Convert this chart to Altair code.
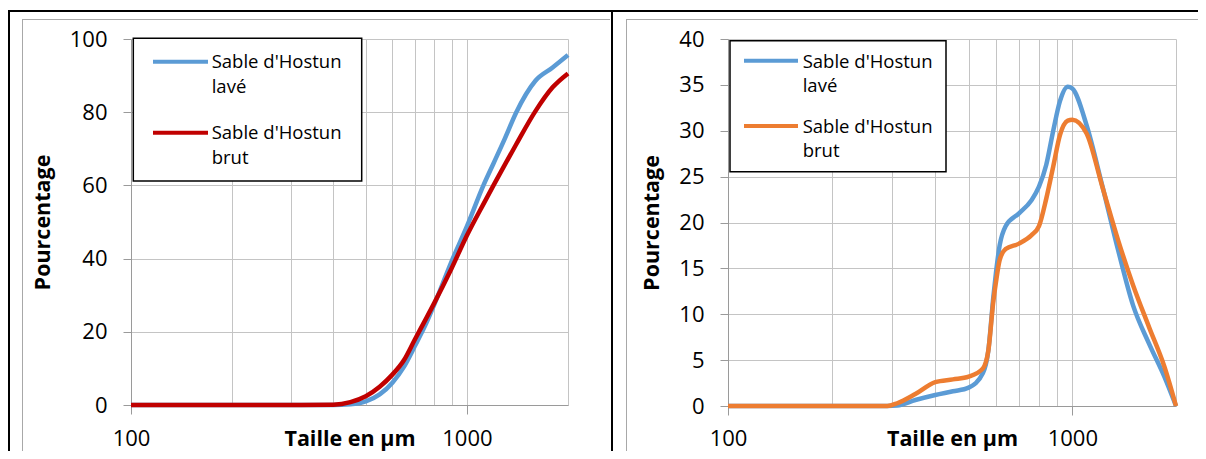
import altair as alt
import pandas as pd

FONT = "Open Sans"
SERIES = ["Sable d'Hostun lavé", "Sable d'Hostun brut"]
LEFT_COLORS = ["#5B9BD5", "#C00000"]
RIGHT_COLORS = ["#5B9BD5", "#ED7D31"]

# Left panel: cumulative curves
LEFT_SIZES = [100, 200, 300, 400, 450, 500, 550, 600, 650, 700, 760, 800, 900, 1000, 1120, 1200, 1300, 1400, 1600, 1800, 2000]
LEFT_LAVE = [0, 0, 0, 0, 0.2, 1.0, 2.9, 6.1, 10.5, 16.1, 22.7, 27.5, 39.2, 48.8, 60.0, 66.0, 73.0, 79.8, 88.6, 92.2, 95.6]
LEFT_BRUT = [0, 0, 0, 0.1, 0.8, 2.4, 5.0, 8.3, 12.3, 17.9, 24.0, 27.9, 37.3, 46.3, 54.9, 60.0, 65.8, 71.1, 80.3, 86.8, 90.6]

# Right panel: distribution curves
RIGHT_SIZES = [100, 200, 290, 310, 350, 400, 450, 500, 550, 570, 590, 600, 615, 640, 700, 760, 800, 840, 880, 920, 970, 1000, 1100, 1220, 1360, 1500, 1670, 1850, 2000]
RIGHT_LAVE = [0, 0, 0, 0.05, 0.65, 1.2, 1.6, 2.0, 3.6, 6.0, 12.0, 14.5, 17.5, 19.6, 21.0, 22.4, 23.9, 26.3, 30.0, 33.2, 34.8, 34.6, 30.6, 24.1, 16.9, 11.0, 6.8, 3.2, 0]
RIGHT_BRUT = [0, 0, 0, 0.3, 1.3, 2.6, 2.9, 3.2, 4.1, 6.0, 11.5, 13.5, 15.9, 17.1, 17.7, 18.6, 19.6, 22.6, 26.1, 29.5, 31.1, 31.2, 29.7, 24.0, 18.0, 13.2, 8.6, 4.3, 0]

X_GRID = [100, 200, 300, 400, 500, 600, 700, 800, 900, 1000, 2000]
LEFT_Y_TICKS = [0, 20, 40, 60, 80, 100]
RIGHT_Y_TICKS = [0, 5, 10, 15, 20, 25, 30, 35, 40]

GRID = "#c4c4c4"
AXIS = "#9a9a9a"
FRAME = "#a8a8a8"


def make_df(sizes, a, b):
    rows = []
    for s, v in zip(sizes, a):
        rows.append({"taille": s, "pct": v, "serie": SERIES[0]})
    for s, v in zip(sizes, b):
        rows.append({"taille": s, "pct": v, "serie": SERIES[1]})
    return pd.DataFrame(rows)


DUMMY = pd.DataFrame({"k": [0]})
LEGEND_DF = pd.DataFrame({"serie": SERIES})


def box(x1, x2, y1, y2, color, opacity=1):
    return alt.Chart(DUMMY).mark_rect(color=color, strokeWidth=0, opacity=opacity).encode(
        x=alt.value(x1), x2=alt.value(x2), y=alt.value(y1), y2=alt.value(y2))


def panel(df, colors, yticks, label_pad, title_y, leg):
    cond = "datum.value == 100 || datum.value == 1000"
    xaxis = alt.Axis(
        values=X_GRID, title="Taille en µm",
        labelExpr="(" + cond + ") ? format(datum.value, 'd') : ''",
        labelOverlap=False, labelFlush=False, labelFont=FONT, labelFontSize=22,
        labelColor="#000", labelBaseline="alphabetic", labelPadding=label_pad,
        tickSize=9, tickColor=AXIS,
        tickOpacity={"condition": {"test": cond, "value": 1}, "value": 0},
        grid=True, gridColor=GRID, domainColor=AXIS,
        titleFont=FONT, titleFontSize=21.5, titleFontWeight="bold", titleColor="#000",
        titleY=title_y, titleBaseline="alphabetic")
    yaxis = alt.Axis(
        values=yticks, title="Pourcentage", labelFont=FONT, labelFontSize=22,
        labelColor="#000", labelPadding=16, labelFlush=False, labelOverlap=False,
        tickSize=8, tickColor=AXIS, grid=True, gridColor=GRID, domainColor=AXIS,
        titleFont=FONT, titleFontSize=21.5, titleFontWeight="bold", titleColor="#000",
        titlePadding=15)
    cscale = alt.Scale(domain=SERIES, range=colors)
    color = alt.Color("serie:N", scale=cscale, legend=None)
    xenc = alt.X("taille:Q", scale=alt.Scale(type="log", domain=[100, 2000], nice=False), axis=xaxis)
    yenc = alt.Y("pct:Q", scale=alt.Scale(domain=[yticks[0], yticks[-1]], nice=False), axis=yaxis)
    layers = []
    for s in SERIES:
        layers.append(
            alt.Chart(df).transform_filter(alt.datum.serie == s)
            .mark_line(strokeWidth=4.5, interpolate="monotone")
            .encode(x=xenc, y=yenc, color=color)
        )
    # legend box
    layers.append(
        alt.Chart(DUMMY).mark_rect(fill="#ffffff", stroke="#000", strokeWidth=1.5).encode(
            x=alt.value(leg["box"][0]), x2=alt.value(leg["box"][1]),
            y=alt.value(leg["box"][2]), y2=alt.value(leg["box"][3])))
    for i, s in enumerate(SERIES):
        base = alt.Chart(LEGEND_DF).transform_filter(alt.datum.serie == s)
        layers.append(
            base.mark_rule(strokeWidth=4).encode(
                x=alt.value(leg["sym"][0]), x2=alt.value(leg["sym"][1]),
                y=alt.value(leg["sym_y"][i]), color=color))
        layers.append(
            base.transform_calculate(lab="replace(datum.serie, 'Hostun ', 'Hostun\\n')")
            .mark_text(align="left", baseline="alphabetic", lineBreak="\n",
                       lineHeight=leg["lh"], font=FONT, fontSize=18.5, color="#000")
            .encode(x=alt.value(leg["text_x"]), y=alt.value(leg["text_y"][i]), text="lab:N"))
    return layers


left_df = make_df(LEFT_SIZES, LEFT_LAVE, LEFT_BRUT)
right_df = make_df(RIGHT_SIZES, RIGHT_LAVE, RIGHT_BRUT)

# Left panel: plot origin sits at page (131, 39)
left_layers = panel(left_df, LEFT_COLORS, LEFT_Y_TICKS, 31.5, 40.5,
                    {"box": (2.3, 230.7, -0.7, 142), "sym": (22, 77), "sym_y": (22.7, 93.7),
                     "text_x": 80.7, "text_y": (28.7, 100), "lh": 25})
left_deco = [
    box(-123, 482, -31, 412, "#ffffff", 0),      # page area of the left cell
    box(-109, -108, -20, 412, FRAME),            # chart-area border (left)
    box(-109, 479, -20, -19, FRAME),             # chart-area border (top)
    box(-123, 482, -29, -27, "#000"),            # table top line
    box(-123, -121, -29, 412, "#000"),           # table left line
    box(480, 482, -29, 412, "#000"),             # table divider
]
left = alt.layer(*left_deco, *left_layers).properties(width=437, height=366)

# Right panel: plot origin sits at page (728, 39)
right_layers = panel(right_df, RIGHT_COLORS, RIGHT_Y_TICKS, 30.5, 39.5,
                     {"box": (2, 218, 1.7, 132.7), "sym": (16, 70), "sym_y": (21.7, 87),
                      "text_x": 74.7, "text_y": (28.7, 94), "lh": 24})
right_deco = [
    box(-115, 470, -31, 412, "#ffffff", 0),      # page area of the right cell
    box(-102, -101, -20, 412, FRAME),
    box(-102, 470, -20, -19, FRAME),
    box(-115, 470, -29, -27, "#000"),
]
right = alt.layer(*right_deco, *right_layers).properties(width=448, height=367)

chart = (
    alt.hconcat(left, right, spacing=0)
    .resolve_scale(x="independent", y="independent", color="independent")
    .properties(padding=0, background="#ffffff")
    .configure_view(strokeWidth=0)
)

chart.save("out.html", embed_options={"renderer": "svg", "actions": False})
